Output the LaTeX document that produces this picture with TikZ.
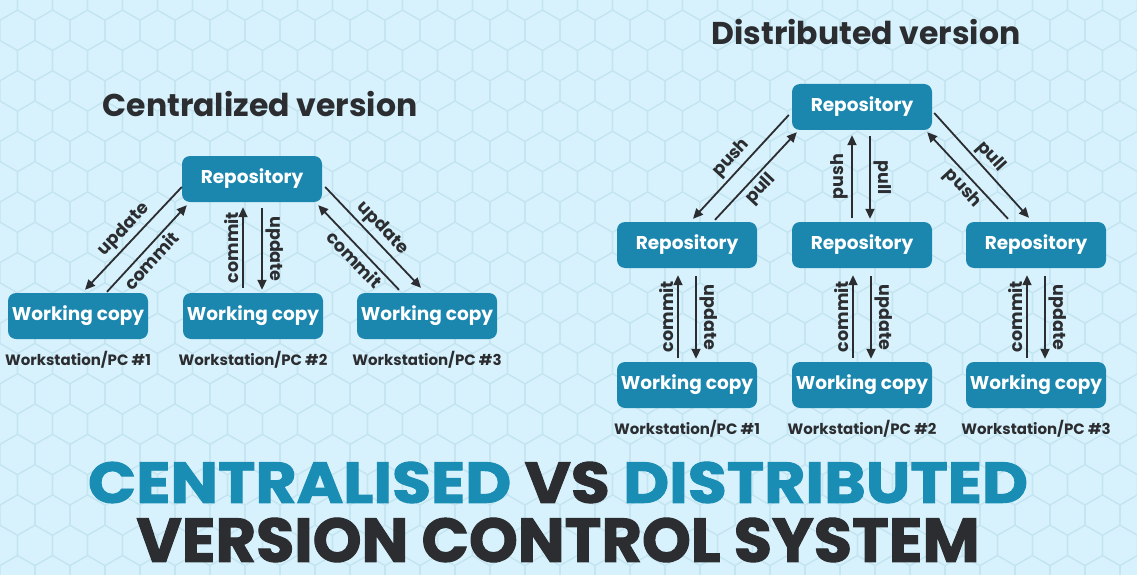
\documentclass[tikz,border=0pt]{standalone}
\usepackage{fontspec}
\setmainfont{Poppins}
\newfontfamily\titlefont{Poppins}[BoldFeatures={FakeBold=1.6}]
\usetikzlibrary{positioning,calc,arrows.meta}
\definecolor{skybg}{HTML}{D7F2FC}
\definecolor{hexline}{HTML}{C3E4F1}
\definecolor{tealbox}{HTML}{1B87AE}
\definecolor{titleblue}{HTML}{1A8DB4}
\definecolor{inkdark}{HTML}{2B2D30}

\begin{document}
\begin{tikzpicture}[x=1pt,y=-1pt,
  box/.style={rounded corners=8pt,fill=tealbox,text=white,font=\bfseries\fontsize{18.5}{22}\selectfont,minimum width=140pt,minimum height=46pt,inner sep=0pt},
  pclabel/.style={text=inkdark,font=\bfseries\fontsize{15}{17}\selectfont,inner sep=0pt},
  heading/.style={text=inkdark,font=\bfseries\fontsize{31.5}{36}\selectfont,inner sep=0pt},
  flow/.style={-{Triangle[length=10pt,width=9pt]},line width=1.8pt,draw=inkdark},
  tag/.style={text=inkdark,font=\bfseries\fontsize{17.5}{19}\selectfont,inner sep=3pt}]
\useasboundingbox (0,0) rectangle (1137,575);
\fill[skybg] (0,0) rectangle (1137,575);
% hexagon backdrop
\begin{scope}
\clip (0,0) rectangle (1137,575);
\foreach \row in {0,...,19} {
  \foreach \col in {0,...,33} {
    \pgfmathsetmacro{\cx}{\col*35+mod(\row,2)*17.5}
    \pgfmathsetmacro{\cy}{\row*30.3}
    \draw[hexline,line width=1.1pt] (\cx,\cy-20.2) -- (\cx+17.5,\cy-10.1) -- (\cx+17.5,\cy+10.1) -- (\cx,\cy+20.2) -- (\cx-17.5,\cy+10.1) -- (\cx-17.5,\cy-10.1) -- cycle;
  }
}
\end{scope}

% centralized version
\node[heading] (ctitle) at (260,104) {Centralized version};
\node[box] (crepo) at (252,179) {Repository};
\node[box] (cwc1) at (78,316) {Working copy};
\node[box] (cwc2) at (253,316) {Working copy};
\node[box] (cwc3) at (427,316) {Working copy};
\node[pclabel,below=12pt of cwc1] (cpc1) {Workstation/PC \#1};
\node[pclabel,below=12pt of cwc2] (cpc2) {Workstation/PC \#2};
\node[pclabel,below=12pt of cwc3] (cpc3) {Workstation/PC \#3};

\draw[flow] ($(crepo.west)+(0,8)$) -- node[tag,midway,sloped,above] {update} ($(cwc1.north)+(7,-3)$);
\draw[flow] ($(cwc1.north)+(29,-1)$) -- node[tag,pos=0.45,sloped,below] {commit} ($(crepo.south west)+(5,3)$);
\draw[flow] ($(cwc2.north)+(-10,-5)$) -- node[tag,midway,rotate=90,above] {commit} ($(crepo.south)+(-9,5)$);
\draw[flow] ($(crepo.south)+(10,6)$) -- node[tag,midway,rotate=-90,above] {update} ($(cwc2.north)+(9,-3)$);
\draw[flow] ($(crepo.east)+(3,8)$) -- node[tag,midway,sloped,above] {update} ($(cwc3.north)+(-6,-5)$);
\draw[flow] ($(cwc3.north)+(-28,-3)$) -- node[tag,pos=0.45,sloped,below] {commit} ($(crepo.south east)+(-4,3)$);

% distributed version
\node[heading] (dtitle) at (866,32) {Distributed version};
\node[box] (drepo) at (862,107) {Repository};
\node[box] (drepo1) at (687,245) {Repository};
\node[box] (drepo2) at (862,245) {Repository};
\node[box] (drepo3) at (1036,245) {Repository};
\node[box] (dwc1) at (687,385) {Working copy};
\node[box] (dwc2) at (862,385) {Working copy};
\node[box] (dwc3) at (1036,385) {Working copy};
\node[pclabel,below=12pt of dwc1] (dpc1) {Workstation/PC \#1};
\node[pclabel,below=12pt of dwc2] (dpc2) {Workstation/PC \#2};
\node[pclabel,below=12pt of dwc3] (dpc3) {Workstation/PC \#3};

\draw[flow] ($(drepo.west)+(-3,8)$) -- node[tag,midway,sloped,above] {push} ($(drepo1.north)+(6,-3)$);
\draw[flow] ($(drepo1.north)+(28,-2)$) -- node[tag,pos=0.45,sloped,below] {pull} ($(drepo.south west)+(5,2)$);
\draw[flow] ($(drepo2.north)+(-10,-4)$) -- node[tag,midway,rotate=90,above] {push} ($(drepo.south)+(-10,5)$);
\draw[flow] ($(drepo.south)+(8,6)$) -- node[tag,midway,rotate=-90,above] {pull} ($(drepo2.north)+(8,-3)$);
\draw[flow] ($(drepo.east)+(2,6)$) -- node[tag,midway,sloped,above] {pull} ($(drepo3.north)+(-7,-4)$);
\draw[flow] ($(drepo3.north)+(-28,-3)$) -- node[tag,pos=0.45,sloped,below] {push} ($(drepo.south east)+(-5,2)$);

\foreach \k in {1,2,3} {
  \draw[flow] ($(dwc\k.north)+(-9,-4)$) -- node[tag,midway,rotate=90,above] {commit} ($(drepo\k.south)+(-9,7)$);
  \draw[flow] ($(drepo\k.south)+(9,8)$) -- node[tag,midway,rotate=-90,above] {update} ($(dwc\k.north)+(9,-3)$);
}

% big title
\node[inner sep=0pt] (bigtop) at (558,482.5) {\resizebox{940pt}{41pt}{\titlefont\bfseries\textcolor{titleblue}{CENTRALISED} \textcolor{inkdark}{VS} \textcolor{titleblue}{DISTRIBUTED}}};
\node[inner sep=0pt] (bigbot) at (558,540) {\resizebox{843pt}{44pt}{\titlefont\bfseries\textcolor{inkdark}{VERSION CONTROL SYSTEM}}};
\end{tikzpicture}
\end{document}
